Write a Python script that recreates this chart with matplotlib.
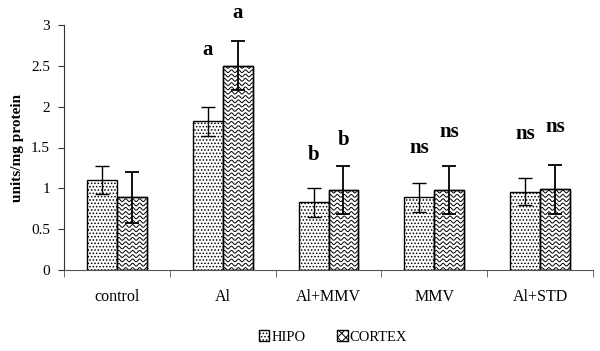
import numpy as np
import matplotlib
matplotlib.use("Agg")
import matplotlib.pyplot as plt
from matplotlib.patches import Rectangle

categories = ["control", "Al", "Al+MMV", "MMV", "Al+STD"]
hipo = [1.10, 1.82, 0.83, 0.89, 0.96]
hipo_err = [0.17, 0.18, 0.18, 0.18, 0.17]
cortex = [0.89, 2.50, 0.98, 0.98, 0.99]
cortex_err = [0.31, 0.30, 0.29, 0.29, 0.30]
hipo_marks = ["", "a", "b", "ns", "ns"]
cortex_marks = ["", "a", "b", "ns", "ns"]
hipo_mark_y = [0, 2.69, 1.41, 1.49, 1.66]
cortex_mark_y = [0, 3.15, 1.59, 1.69, 1.75]
yticks = [0, 0.5, 1, 1.5, 2, 2.5, 3]
ytick_labels = ["0", "0.5", "1", "1.5", "2", "2.5", "3"]

plt.rcParams["font.family"] = ["Liberation Serif", "DejaVu Serif"]
plt.rcParams["hatch.linewidth"] = 0.7

fig = plt.figure(figsize=(6.0, 3.51), dpi=100)
ax = fig.add_axes([64 / 600, 81 / 351, 529 / 600, 245 / 351])

x = np.arange(len(categories))
w = 0.283
hb = ax.bar(x - w / 2, hipo, w, color="white", edgecolor="black", linewidth=1.0,
            hatch=".....", label="HIPO", zorder=2)
cb = ax.bar(x + w / 2, cortex, w, color="white", edgecolor="black", linewidth=1.0,
            label="CORTEX", zorder=2)

ax.errorbar(x - w / 2, hipo, yerr=hipo_err, fmt="none", ecolor="black",
            elinewidth=1.0, capsize=5, capthick=1.0, zorder=4)
ax.errorbar(x + w / 2, cortex, yerr=cortex_err, fmt="none", ecolor="black",
            elinewidth=1.3, capsize=5, capthick=1.3, zorder=4)

ax.set_xlim(-0.5, len(categories) - 0.5)
ax.set_ylim(0, 3)

# wavy fill for CORTEX bars, clipped to each bar
fig.canvas.draw()
inv = ax.transData.inverted()
for rect in cb.patches:
    bb = rect.get_window_extent()
    period, amp, gap = 7.0, 1.4, 4.3
    xs = np.linspace(bb.x0 - period, bb.x1 + period, 200)
    yrow = bb.y0 + 1
    while yrow < bb.y1 + gap:
        ys = yrow + amp * np.sin(2 * np.pi * (xs - bb.x0) / period)
        pts = inv.transform(np.column_stack([xs, ys]))
        ln, = ax.plot(pts[:, 0], pts[:, 1], color="black", lw=0.7, zorder=3)
        ln.set_clip_path(rect)
        yrow += gap
    border = Rectangle(rect.get_xy(), rect.get_width(), rect.get_height(),
                       fill=False, edgecolor="black", linewidth=1.0, zorder=3.5)
    ax.add_patch(border)

for i in range(len(categories)):
    if hipo_marks[i]:
        ax.text(x[i] - w / 2, hipo_mark_y[i], hipo_marks[i], ha="center", va="center",
                fontsize=15, fontweight="bold")
    if cortex_marks[i]:
        ax.text(x[i] + w / 2, cortex_mark_y[i], cortex_marks[i], ha="center", va="center",
                fontsize=15, fontweight="bold")

ax.spines["top"].set_visible(False)
ax.spines["right"].set_visible(False)
ax.spines["left"].set_color("#333333")
ax.spines["bottom"].set_color("#555555")
ax.set_yticks(yticks)
ax.set_yticklabels(ytick_labels, fontsize=11)
ax.tick_params(axis="y", direction="out", length=4, color="#333333", pad=6)
ax.set_xticks(x)
ax.set_xticklabels(categories, fontsize=11.5)
ax.tick_params(axis="x", which="major", length=0, pad=14)
ax.set_xticks(np.arange(len(categories) + 1) - 0.5, minor=True)
ax.tick_params(axis="x", which="minor", length=5, direction="out", color="#555555")
ax.set_ylabel("units/mg protein", fontsize=11, fontweight="bold", labelpad=5)

leg = fig.legend(handles=[hb, cb], labels=["HIPO", "CORTEX"], loc="center",
                 bbox_to_anchor=(0.555, 14 / 351), ncol=2, frameon=False, fontsize=10.5,
                 handlelength=0.7, handleheight=0.7, handletextpad=0.15,
                 columnspacing=2.2)
leg.legend_handles[1].set_hatch("xxxx")

fig.savefig("out.png", dpi=100)
